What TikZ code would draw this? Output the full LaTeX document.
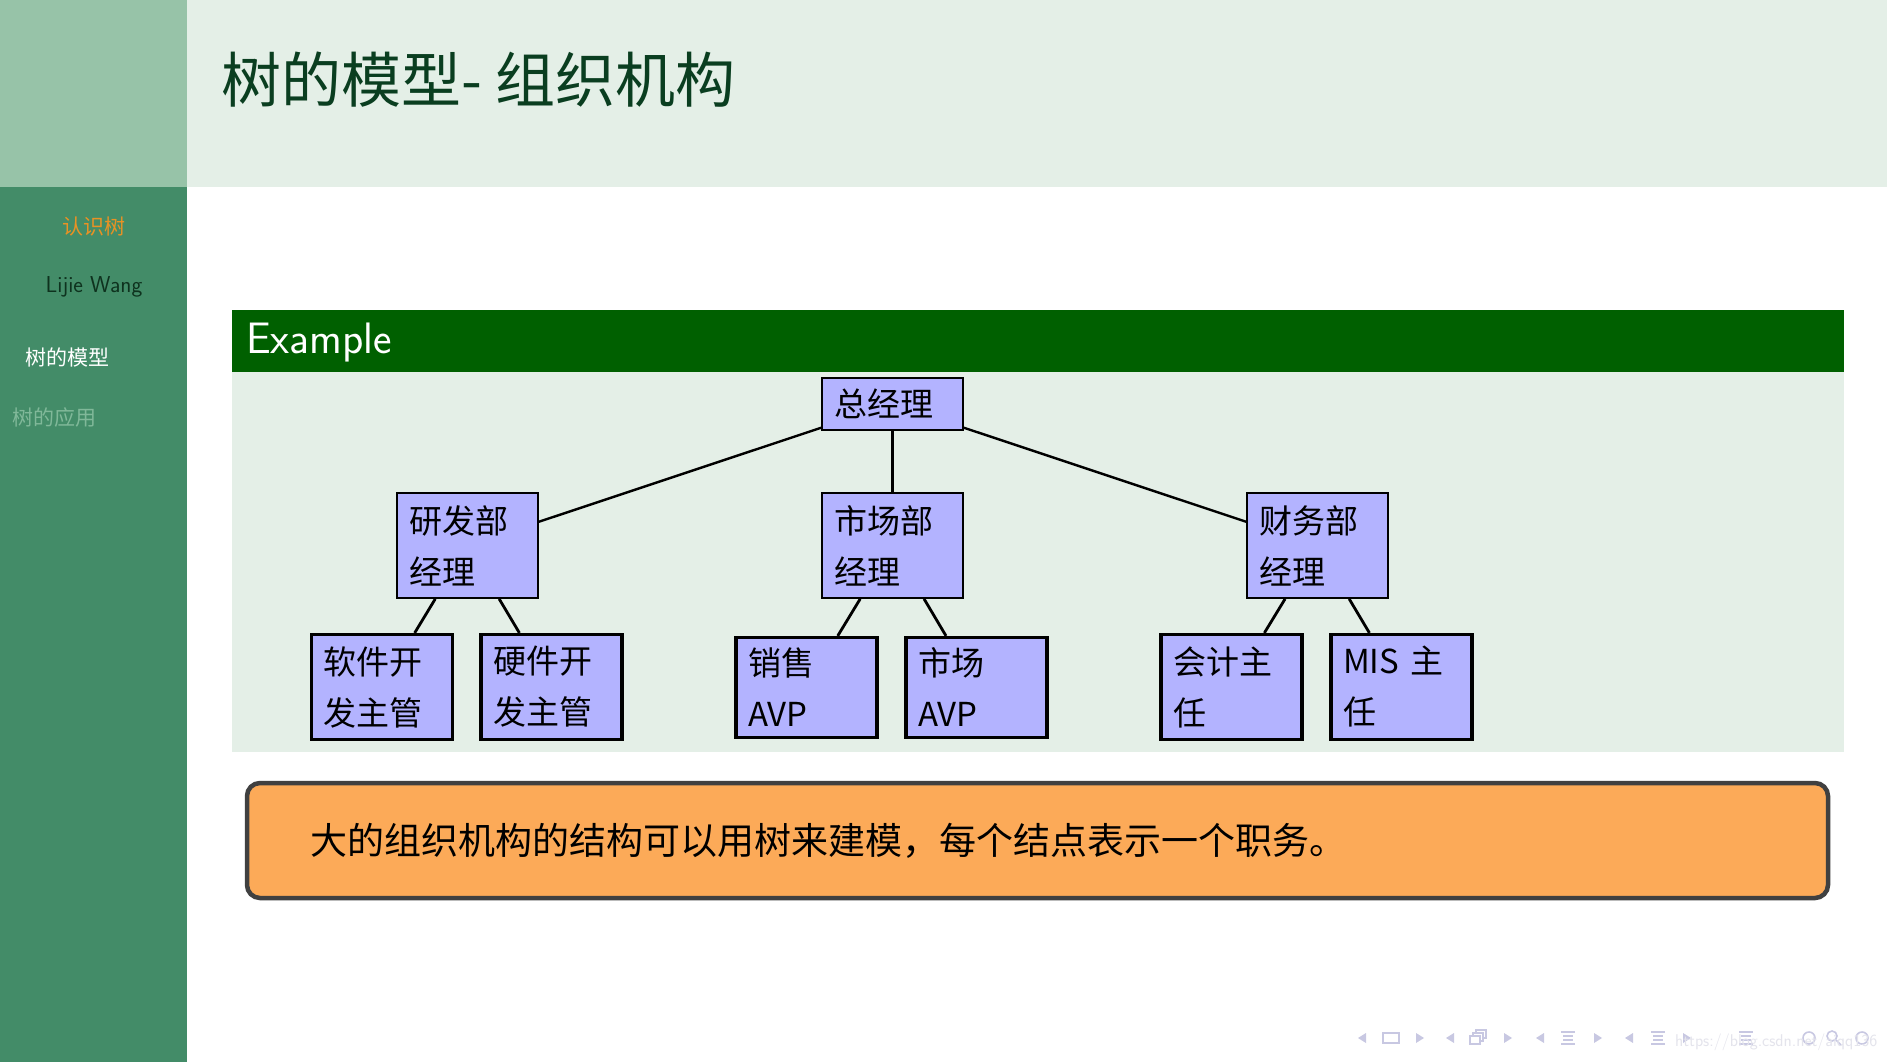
\documentclass[tikz,border=0pt]{standalone}
\usepackage{fontspec}
\newfontfamily\cjk{Noto Sans CJK SC}
\definecolor{sidebar}{RGB}{67,140,104}
\definecolor{sidetop}{RGB}{151,195,168}
\definecolor{headbg}{RGB}{228,239,231}
\definecolor{titlec}{RGB}{10,62,32}
\definecolor{exhead}{RGB}{0,96,0}
\definecolor{nodefill}{RGB}{179,179,255}
\definecolor{orangefill}{RGB}{252,170,88}
\definecolor{boxborder}{RGB}{64,64,64}
\definecolor{secorange}{RGB}{232,146,36}
\definecolor{authorc}{RGB}{14,50,30}
\definecolor{fadedc}{RGB}{128,184,153}
\definecolor{navc}{RGB}{200,200,226}
\definecolor{wmc}{RGB}{228,228,236}
\tikzset{
  mgr/.style={draw=black, fill=nodefill, line width=1.8pt, text width=117pt, align=left,
     inner xsep=12pt, inner ysep=0pt, minimum width=141pt, font=\cjk\fontsize{33}{51}\selectfont},
  leaf/.style={mgr, line width=3.2pt},
  edgeA/.style={line width=2.4pt, black},
  edgeB/.style={line width=2.8pt, black},
  navtri/.style={fill=navc},
  navline/.style={draw=navc, line width=1.6pt},
}
\begin{document}
\begin{tikzpicture}[x=1pt,y=-1pt]
\useasboundingbox (0,0) rectangle (1887,1062);
\fill[white] (0,0) rectangle (1887,1062);
% sidebar and header
\fill[sidebar] (0,0) rectangle (187,1062);
\fill[sidetop] (0,0) rectangle (187,187);
\fill[headbg] (187,0) rectangle (1887,187);
\node[anchor=west, inner sep=0pt, text=titlec, font=\cjk\fontsize{60}{66}\selectfont] (title) at (221,80) {树的模型- 组织机构};
% sidebar texts
\node[inner sep=0pt, text=secorange, font=\cjk\fontsize{21}{24}\selectfont] (sec) at (94,227) {认识树};
\node[inner sep=0pt, text=authorc, font=\sffamily\fontsize{23}{26}\selectfont] (author) at (94,287) {Lijie Wang};
\node[anchor=west, inner sep=0pt, text=white, font=\cjk\fontsize{21}{24}\selectfont] (s1) at (25,357) {树的模型};
\node[anchor=west, inner sep=0pt, text=fadedc, font=\cjk\fontsize{21}{24}\selectfont] (s2) at (12,418) {树的应用};
% example block
\fill[exhead] (232,310) rectangle (1844,372);
\fill[headbg] (232,372) rectangle (1844,752);
\node[anchor=west, inner sep=0pt, text=white, font=\sffamily\fontsize{44}{48}\selectfont] (extitle) at (246,343) {Example};
% tree
\node[mgr, minimum height=52pt] (root) at (892.5,404) {总经理};
\node[mgr, minimum height=105pt] (yf) at (467.5,545.5) {研发部\\经理};
\node[mgr, minimum height=105pt] (sc) at (892.5,545.5) {市场部\\经理};
\node[mgr, minimum height=105pt] (cw) at (1317.5,545.5) {财务部\\经理};
\node[leaf, minimum height=105pt] (rj) at (382,687) {软件开\\发主管};
\node[leaf, minimum height=105pt] (yj) at (551.5,687) {硬件开\\发主管};
\node[leaf, minimum height=100pt] (xs) at (806.5,687.5) {销售\\AVP};
\node[leaf, minimum height=100pt] (scavp) at (976.5,687.5) {市场\\AVP};
\node[leaf, minimum height=105pt] (kj) at (1231.5,687) {会计主\\任};
\node[leaf, minimum height=105pt] (mis) at (1401.5,687) {MIS 主\\任};
\draw[edgeA] (root) -- (yf);
\draw[edgeA] (root) -- (sc);
\draw[edgeA] (root) -- (cw);
\draw[edgeB] (yf) -- (rj);
\draw[edgeB] (yf) -- (yj);
\draw[edgeB] (sc) -- (xs);
\draw[edgeB] (sc) -- (scavp);
\draw[edgeB] (cw) -- (kj);
\draw[edgeB] (cw) -- (mis);
% note box
\node[draw=boxborder, fill=orangefill, line width=4.5pt, rounded corners=13pt,
  minimum width=1581pt, minimum height=115pt, text width=1455pt, inner xsep=63pt,
  align=left, font=\cjk\fontsize{37}{40}\selectfont] (note) at (1037.5,840.5)
  {大的组织机构的结构可以用树来建模，每个结点表示一个职务。};
% navigation symbols
\foreach \x in {1362,1450,1540,1629} \fill[navtri] (\x+4,1033) -- (\x-4,1038) -- (\x+4,1043) -- cycle;
\foreach \x in {1420,1508,1598,1687} \fill[navtri] (\x-4,1033) -- (\x+4,1038) -- (\x-4,1043) -- cycle;
\draw[navline] (1383,1033) rectangle (1399,1043);
\draw[navline, fill=white] (1476,1030) rectangle (1486,1038);
\draw[navline, fill=white] (1473,1033) rectangle (1483,1041);
\draw[navline, fill=white] (1470,1036) rectangle (1480,1044);
\foreach \x in {1568,1658,1746} {
  \draw[navline] (\x-7,1032) -- (\x+7,1032);
  \draw[navline] (\x-5,1036) -- (\x+5,1036);
  \draw[navline] (\x-5,1040) -- (\x+5,1040);
  \draw[navline] (\x-7,1044) -- (\x+7,1044);
}
\draw[navline] (1809,1038) circle (6pt);
\draw[navline] (1832,1036) circle (5pt);
\draw[navline] (1836,1040) -- (1841,1045);
\draw[navline] (1862,1038) circle (6pt);
\node[anchor=west, inner sep=0pt, text=wmc, font=\sffamily\fontsize{17}{19}\selectfont] (wm) at (1675,1042) {https://blog.csdn.net/aiqq136};
\end{tikzpicture}
\end{document}
